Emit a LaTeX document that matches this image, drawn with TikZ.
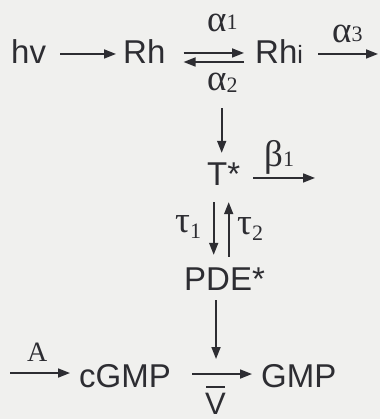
\documentclass[tikz,border=0pt]{standalone}
\usepackage{fontspec}
\setmainfont{Liberation Sans}
\newfontfamily\gk{Liberation Serif}
\usetikzlibrary{arrows.meta}
\definecolor{ink}{RGB}{45,45,50}
\definecolor{paper}{RGB}{240,240,238}
\tikzset{
 sp/.style={font=\fontsize{33}{33}\selectfont, inner sep=0pt, anchor=base west, text=ink, text height=20pt, text depth=0pt},
 gl/.style={font=\gk\fontsize{37}{37}\selectfont, inner sep=0pt, anchor=base west, text=ink},
 arr/.style={draw=ink, line width=1.7pt, -{Triangle[length=12pt,width=9pt]}},
}
\newcommand{\sbs}[2]{\raisebox{#1}{\fontsize{22}{22}\selectfont #2}}
\begin{document}
\begin{tikzpicture}[x=1pt,y=-1pt]
\fill[paper] (0,0) rectangle (380,419);
\useasboundingbox (0,0) rectangle (380,419);
% species
\node[sp] (hv) at (11,64) {hv};
\node[sp] (Rh) at (123,64) {Rh};
\node[sp] (Rhi) at (255,64) {Rh{\fontsize{25}{25}\selectfont i}};
\node[sp] (T) at (207,186) {T*};
\node[sp] (PDE) at (184,290) {PDE*};
\node[sp] (cGMP) at (79,387) {cGMP};
\node[sp] (GMP) at (261,387) {GMP};
% rate labels
\node[gl] (a1) at (207,32) {α\sbs{2pt}{1}};
\node[gl] (a2) at (207,91) {α\sbs{-2pt}{2}};
\node[gl] (a3) at (332,43) {α\sbs{1pt}{3}};
\node[gl] (b1) at (264,167) {β\sbs{0pt}{1}};
\node[gl] (t1) at (175,232) {τ\sbs{-6pt}{1}};
\node[gl] (t2) at (237,234) {τ\sbs{-6pt}{2}};
\node[font=\gk\fontsize{28}{28}\selectfont, inner sep=0pt, anchor=base west, text=ink] (A) at (27,361) {A};
\node[font=\fontsize{31}{31}\selectfont, inner sep=0pt, anchor=base west, text=ink, text height=22pt, text depth=0pt] (V) at (205,414) {V};
\draw[ink, line width=1.7pt] ([xshift=1pt,yshift=27pt]V.base west) -- ([xshift=-1pt,yshift=27pt]V.base east);
% free ends
\coordinate (e3) at (378,0);
\coordinate (eb) at (315,0);
\coordinate (src) at (10,0);
\coordinate (vx) at ([xshift=-2pt]T.north);
\coordinate (t1x) at ([xshift=-10pt]T.south);
\coordinate (t2x) at ([xshift=5pt]T.south);
% connectors
\draw[arr, shorten <=14pt, shorten >=7pt] (hv.east) -- (Rh.west);
\draw[arr, shorten <=18pt, shorten >=11pt] ([yshift=1pt]Rh.east) -- ([yshift=1pt]Rhi.west);
\draw[arr, shorten <=11pt, shorten >=18pt] ([yshift=-8pt]Rhi.west) -- ([yshift=-8pt]Rh.east);
\draw[arr, shorten <=15pt] (Rhi.east) -- (Rhi.east -| e3);
\draw[arr, shorten <=15pt, shorten >=13pt] (vx |- a2.south) -- (vx);
\draw[arr, shorten <=13pt] ([yshift=-2pt]T.east) -- ([yshift=-2pt]T.east -| eb);
\draw[arr, shorten <=16pt, shorten >=15pt] (t1x) -- (t1x |- PDE.north);
\draw[arr, shorten <=13pt, shorten >=16pt] (t2x |- PDE.north) -- (t2x);
\draw[arr, shorten >=9pt] ([yshift=4pt]cGMP.west -| src) -- ([yshift=4pt]cGMP.west);
\draw[arr, shorten <=21pt, shorten >=9pt] ([yshift=3pt]cGMP.east) -- coordinate[pos=0.5] (mid) ([yshift=3pt]GMP.west);
\draw[arr, shorten <=10pt, shorten >=15pt] (mid |- PDE.south) -- (mid);
\end{tikzpicture}
\end{document}
